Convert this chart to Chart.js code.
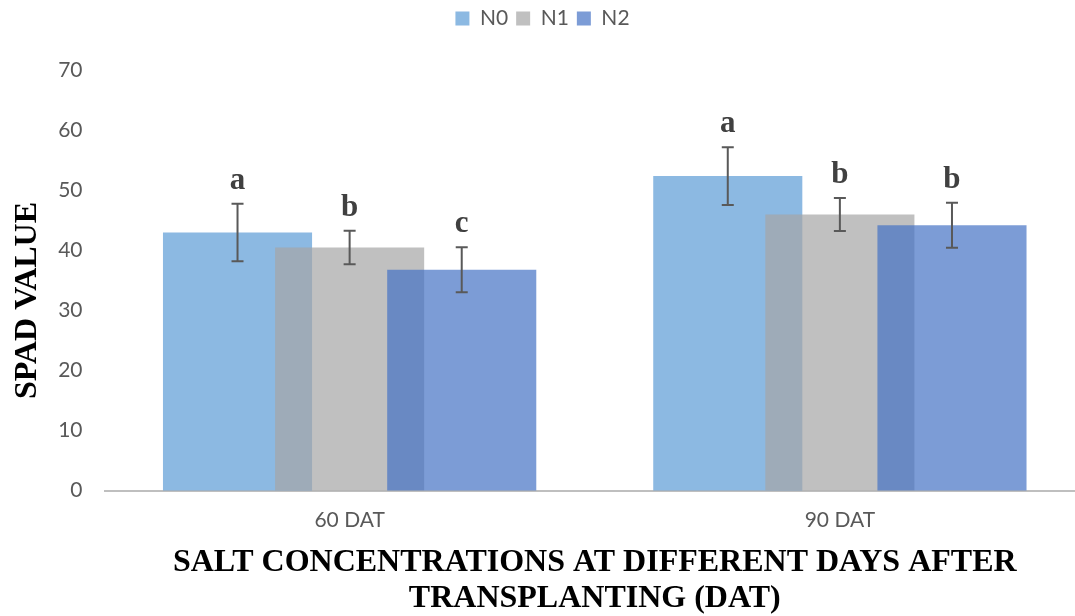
<!DOCTYPE html>
<html>
<head>
<meta charset="utf-8">
<title>SPAD value</title>
<script src="https://cdn.jsdelivr.net/npm/chart.js@4.4.1/dist/chart.umd.min.js"></script>
<style>
  html, body { margin: 0; padding: 0; background: #ffffff; }
  #frame { width: 1075px; height: 616px; overflow: hidden; position: relative; }
  #wrap { width: 1100px; height: 616px; }
</style>
</head>
<body>
<div id="frame"><div id="wrap"><canvas id="chart" width="1100" height="616"></canvas></div></div>
<script>
// Days after transplanting
const categories = ['60 DAT', '90 DAT'];

// Nitrogen treatments
const seriesNames = ['N0', 'N1', 'N2'];

// Mean SPAD values
const n0Values = [43.0, 52.4];
const n1Values = [40.5, 46.0];
const n2Values = [36.8, 44.2];

// Standard errors
const n0Errors = [4.8, 4.8];
const n1Errors = [2.8, 2.75];
const n2Errors = [3.75, 3.75];

// Significance letters
const n0Letters = ['a', 'a'];
const n1Letters = ['b', 'b'];
const n2Letters = ['c', 'b'];

// Y axis range
const yMin = 0;
const yMax = 70;
const yStep = 10;

const colors = ['rgba(91,155,213,0.7)', 'rgba(165,165,165,0.7)', 'rgba(68,114,196,0.7)'];
const valueSets = [n0Values, n1Values, n2Values];
const errorSets = [n0Errors, n1Errors, n2Errors];
const letterSets = [n0Letters, n1Letters, n2Letters];

const tickFont = { family: 'Lato, "Open Sans", sans-serif', size: 21 };
const serifBold = 'Liberation Serif, "Times New Roman", serif';

// Draw the bars left to right so each one sits over its left neighbour
const drawInOrder = {
  id: 'drawInOrder',
  beforeDatasetsDraw(chart) {
    chart.data.datasets.forEach((ds, i) => {
      const meta = chart.getDatasetMeta(i);
      if (chart.isDatasetVisible(i)) meta.controller.draw();
    });
    return false;
  }
};

// Error bars and letters above each bar
const errorBars = {
  id: 'errorBars',
  afterDraw(chart) {
    const ctx = chart.ctx;
    const y = chart.scales.y;
    ctx.save();
    chart.data.datasets.forEach((ds, d) => {
      if (!chart.isDatasetVisible(d)) return;
      const meta = chart.getDatasetMeta(d);
      meta.data.forEach((bar, i) => {
        const v = valueSets[d][i];
        const e = errorSets[d][i];
        const yt = y.getPixelForValue(v + e);
        const yb = y.getPixelForValue(v - e);
        const x = bar.x;
        ctx.strokeStyle = '#595959';
        ctx.lineWidth = 2;
        ctx.beginPath();
        ctx.moveTo(x, yt); ctx.lineTo(x, yb);
        ctx.moveTo(x - 6, yt); ctx.lineTo(x + 6, yt);
        ctx.moveTo(x - 6, yb); ctx.lineTo(x + 6, yb);
        ctx.stroke();
        ctx.fillStyle = '#404040';
        ctx.font = 'bold 31px ' + serifBold;
        ctx.textAlign = 'center';
        ctx.textBaseline = 'alphabetic';
        ctx.fillText(letterSets[d][i], x, yt - 15);
      });
    });
    ctx.restore();
  }
};

// Room between the legend and the plot
const legendSpace = {
  id: 'legendSpace',
  beforeInit(chart) {
    const fit = chart.legend.fit;
    chart.legend.fit = function () {
      fit.call(this);
      this.height = 70.5;
    };
  }
};

new Chart(document.getElementById('chart'), {
  type: 'bar',
  data: {
    labels: categories,
    datasets: seriesNames.map((name, i) => ({
      label: name,
      data: valueSets[i],
      backgroundColor: colors[i],
      borderWidth: 0,
      barPercentage: 1.33,
      categoryPercentage: 0.686
    }))
  },
  options: {
    responsive: false,
    animation: false,
    devicePixelRatio: 1,
    layout: { padding: { left: 0, right: 15, top: 0, bottom: 0 } },
    plugins: {
      legend: {
        position: 'top',
        labels: {
          boxWidth: 14,
          boxHeight: 14,
          padding: 8,
          color: '#595959',
          font: tickFont
        }
      },
      tooltip: { enabled: false }
    },
    scales: {
      x: {
        grid: { display: false, drawTicks: false },
        border: { display: true, color: '#BFBFBF', width: 2 },
        ticks: { color: '#595959', font: tickFont, padding: 17 },
        title: {
          display: true,
          text: ['SALT CONCENTRATIONS AT DIFFERENT DAYS AFTER', 'TRANSPLANTING (DAT)'],
          color: '#000000',
          font: { family: serifBold, size: 32, weight: 'bold', lineHeight: 1.1 },
          padding: { top: 0, bottom: 0 }
        },
        afterFit(scale) { scale.height = 125.5; }
      },
      y: {
        min: yMin,
        max: yMax,
        grid: { display: false, drawTicks: false },
        border: { display: false },
        ticks: { stepSize: yStep, color: '#595959', font: tickFont, padding: 22 },
        title: {
          display: true,
          text: 'SPAD VALUE     ',
          color: '#000000',
          font: { family: serifBold, size: 32, weight: 'bold', lineHeight: 1.2 },
          padding: { top: 9, bottom: 0 }
        },
        afterFit(scale) { scale.width = 104.5; }
      }
    }
  },
  plugins: [drawInOrder, errorBars, legendSpace]
});
</script>
</body>
</html>
